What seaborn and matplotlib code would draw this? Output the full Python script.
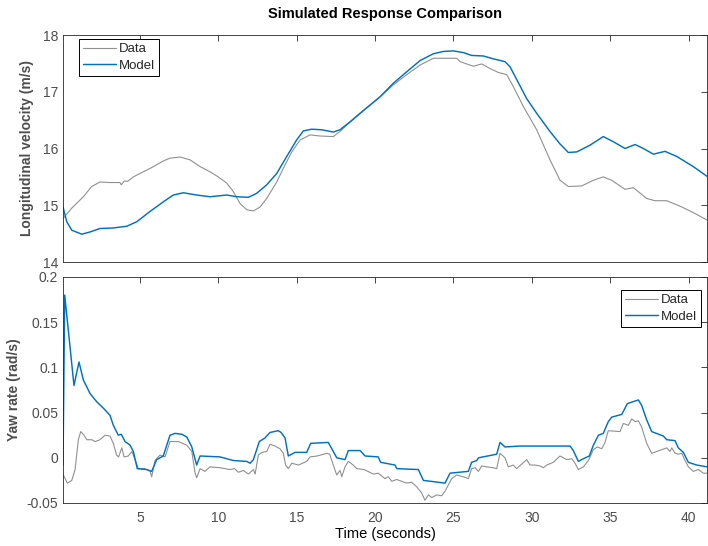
import numpy as np
import pandas as pd
import matplotlib
matplotlib.use("Agg")
import matplotlib.pyplot as plt
from matplotlib.ticker import FuncFormatter
import seaborn as sns

# ---- Longitudinal velocity (m/s) ----
t_vel_data = [0.10, 0.64, 1.38, 1.91, 2.44, 3.08, 3.72, 3.80, 4.00, 4.20, 4.57, 5.21, 5.85,
              6.48, 6.91, 7.55, 8.19, 8.83, 9.46, 9.99, 10.53, 10.95, 11.38, 11.81, 12.23,
              12.66, 13.08, 13.72, 14.14, 14.68, 15.21, 15.85, 16.48, 17.33, 17.76, 18.18,
              19.04, 20.31, 21.16, 22.01, 22.87, 23.72, 24.57, 25.21, 25.42, 26.27, 26.80,
              27.33, 27.86, 28.40, 28.82, 29.46, 30.31, 31.16, 31.80, 32.33, 33.18, 33.93,
              34.56, 35.10, 35.95, 36.48, 37.33, 37.86, 38.61, 39.57, 40.31, 41.18]
vel_data = [14.77, 14.95, 15.15, 15.33, 15.41, 15.40, 15.40, 15.36, 15.43, 15.42, 15.50,
            15.59, 15.68, 15.78, 15.83, 15.85, 15.80, 15.68, 15.59, 15.50, 15.39, 15.24,
            15.03, 14.92, 14.90, 14.97, 15.12, 15.41, 15.65, 15.94, 16.15, 16.24, 16.22,
            16.21, 16.30, 16.41, 16.62, 16.91, 17.12, 17.30, 17.47, 17.59, 17.59, 17.59,
            17.53, 17.45, 17.49, 17.41, 17.34, 17.30, 17.09, 16.74, 16.33, 15.80, 15.44,
            15.33, 15.34, 15.44, 15.50, 15.44, 15.28, 15.31, 15.12, 15.08, 15.08, 14.97,
            14.87, 14.74]

t_vel_model = [0.08, 0.32, 0.64, 1.28, 1.81, 2.44, 3.29, 4.15, 4.79, 5.63, 6.48, 7.12,
               7.76, 8.61, 9.46, 10.53, 11.17, 11.91, 12.44, 13.08, 13.72, 14.36, 14.99,
               15.42, 15.95, 16.59, 17.33, 17.76, 18.40, 19.04, 20.31, 21.16, 22.01, 22.87,
               23.72, 24.35, 24.99, 25.63, 26.16, 26.91, 27.54, 28.29, 28.61, 29.67, 30.31,
               31.16, 31.80, 32.33, 32.87, 33.72, 34.56, 35.20, 35.95, 36.59, 37.12, 37.76,
               38.50, 39.25, 40.31, 41.18]
vel_model = [14.97, 14.71, 14.56, 14.49, 14.53, 14.59, 14.60, 14.63, 14.71, 14.89, 15.06,
             15.18, 15.22, 15.18, 15.15, 15.18, 15.15, 15.14, 15.21, 15.36, 15.56, 15.86,
             16.15, 16.31, 16.34, 16.33, 16.29, 16.33, 16.47, 16.62, 16.91, 17.15, 17.35,
             17.55, 17.67, 17.71, 17.72, 17.69, 17.64, 17.63, 17.58, 17.53, 17.44, 16.88,
             16.62, 16.30, 16.08, 15.93, 15.94, 16.06, 16.21, 16.12, 16.00, 16.07, 16.00,
             15.90, 15.95, 15.86, 15.68, 15.51]

# ---- Yaw rate (rad/s) ----
t_yaw_data = [
    0.10, 0.36, 0.64, 0.85, 1.06, 1.21, 1.42, 1.60, 1.91, 2.13,
    2.44, 2.76, 3.08, 3.29, 3.50, 3.63, 3.83, 3.98, 4.25, 4.47,
    4.68, 4.89, 5.30, 5.64, 5.74, 5.95, 6.27, 6.59, 6.91, 7.44,
    7.98, 8.30, 8.51, 8.61, 8.83, 9.14, 9.46, 10.10, 10.74, 11.03,
    11.27, 11.59, 11.91, 12.23, 12.34, 12.55, 12.76, 13.08, 13.29, 13.61,
    13.93, 14.14, 14.29, 14.46, 14.68, 15.10, 15.63, 15.85, 16.30, 16.50,
    16.91, 17.10, 17.33, 17.55, 17.76, 17.87, 18.08, 18.29, 18.60, 18.83,
    19.30, 19.89, 20.20, 20.63, 20.84, 21.06, 21.38, 21.70, 22.01, 22.33,
    22.65, 22.97, 23.18, 23.40, 23.61, 23.93, 24.25, 24.46, 24.67, 24.89,
    25.21, 25.63, 25.95, 26.16, 26.38, 26.59, 26.80, 27.12, 27.54, 27.76,
    27.97, 28.29, 28.50, 28.82, 29.03, 29.35, 29.67, 29.88, 30.20, 30.52,
    30.74, 30.95, 31.37, 31.80, 32.23, 32.55, 32.76, 32.97, 33.29, 33.61,
    33.93, 34.18, 34.46, 34.67, 34.88, 35.63, 35.84, 36.16, 36.38, 36.59,
    36.80, 37.01, 37.33, 37.65, 37.97, 38.29, 38.61, 38.82, 38.93, 39.14,
    39.35, 39.57, 39.78, 39.99, 40.31, 40.63, 40.95, 41.18]
yaw_data = [
    -0.019, -0.028, -0.025, -0.013, 0.020, 0.029, 0.025, 0.020, 0.020, 0.018,
    0.020, 0.025, 0.024, 0.016, 0.003, 0.001, 0.011, 0.001, 0.002, 0.007,
    -0.002, -0.012, -0.012, -0.015, -0.021, -0.003, 0.003, 0.001, 0.018, 0.018,
    0.014, 0.007, -0.017, -0.022, -0.012, -0.015, -0.010, -0.011, -0.013, -0.012,
    -0.016, -0.014, -0.018, -0.013, -0.018, 0.003, 0.006, 0.007, 0.015, 0.013,
    0.010, 0.005, -0.008, -0.012, -0.006, -0.008, -0.004, 0.001, 0.002, 0.003,
    0.005, 0.004, -0.008, -0.019, -0.014, -0.021, -0.010, -0.004, -0.008, -0.012,
    -0.013, -0.018, -0.017, -0.023, -0.021, -0.026, -0.024, -0.026, -0.028, -0.027,
    -0.032, -0.039, -0.047, -0.041, -0.044, -0.041, -0.042, -0.037, -0.030, -0.023,
    -0.019, -0.021, -0.023, -0.012, -0.011, -0.015, -0.009, -0.010, -0.011, -0.012,
    0.005, 0.000, -0.010, -0.008, -0.012, -0.007, -0.002, -0.008, -0.008, -0.009,
    -0.011, -0.008, -0.005, 0.002, -0.002, -0.001, -0.006, -0.013, -0.010, -0.003,
    0.009, 0.012, 0.010, 0.017, 0.030, 0.029, 0.038, 0.036, 0.043, 0.040,
    0.041, 0.034, 0.016, 0.005, 0.007, 0.009, 0.011, 0.007, 0.011, 0.005,
    0.004, 0.005, -0.003, -0.010, -0.015, -0.013, -0.017, -0.017]

t_yaw_model = [
    0.08, 0.19, 0.78, 1.10, 1.38, 1.81, 2.23, 2.65, 3.08, 3.29,
    3.61, 3.80, 4.04, 4.36, 4.57, 4.82, 5.42, 5.74, 6.06, 6.48,
    6.91, 7.23, 7.67, 7.98, 8.30, 8.61, 8.83, 10.10, 10.95, 11.81,
    12.02, 12.23, 12.61, 12.97, 13.29, 13.82, 14.00, 14.25, 14.46, 14.89,
    15.63, 15.89, 17.01, 17.33, 17.55, 18.08, 18.29, 19.04, 19.36, 20.20,
    20.35, 21.27, 21.38, 22.76, 23.08, 24.46, 24.78, 25.95, 26.16, 26.48,
    26.60, 27.76, 27.97, 28.29, 29.25, 31.16, 32.44, 32.65, 32.97, 33.29,
    33.67, 33.93, 34.25, 34.56, 34.88, 35.10, 35.74, 36.10, 36.80, 37.01,
    37.33, 37.65, 38.40, 38.61, 39.14, 39.35, 39.67, 39.99, 40.52, 41.18]
yaw_model = [
    -0.008, 0.180, 0.080, 0.106, 0.086, 0.071, 0.062, 0.055, 0.047, 0.036,
    0.025, 0.026, 0.018, 0.014, 0.007, -0.012, -0.013, -0.015, -0.002, 0.002,
    0.025, 0.027, 0.026, 0.023, 0.012, -0.008, 0.002, 0.001, -0.003, -0.004,
    -0.006, -0.002, 0.018, 0.022, 0.028, 0.030, 0.028, 0.022, 0.002, 0.006,
    0.006, 0.016, 0.017, 0.007, 0.000, -0.002, 0.008, 0.008, 0.002, 0.001,
    -0.005, -0.008, -0.012, -0.013, -0.025, -0.028, -0.017, -0.015, -0.005, -0.003,
    0.000, 0.004, 0.017, 0.012, 0.013, 0.013, 0.013, 0.008, -0.004, -0.001,
    0.002, 0.014, 0.025, 0.027, 0.040, 0.045, 0.048, 0.060, 0.064, 0.058,
    0.042, 0.029, 0.024, 0.020, 0.019, 0.011, 0.006, -0.005, -0.008, -0.010]

x_ticks = [5, 10, 15, 20, 25, 30, 35, 40]
vel_ticks = [14, 15, 16, 17, 18]
yaw_ticks = [-0.05, 0, 0.05, 0.1, 0.15, 0.2]

DATA_COLOR = "#909090"
MODEL_COLOR = "#0072BD"
AX_COLOR = "#262626"
TICK_COLOR = "#4d4d4d"

sns.set_theme(style="white")
plt.rcParams["font.family"] = ["Liberation Sans", "DejaVu Sans"]
plt.rcParams["axes.linewidth"] = 0.6

fig = plt.figure(figsize=(7.08, 5.46), dpi=100)
W, H = 708, 546
left, right = 63, 707
ax1 = fig.add_axes([left / W, 1 - 262 / H, (right - left) / W, (262 - 35) / H])
ax2 = fig.add_axes([left / W, 1 - 503 / H, (right - left) / W, (503 - 277) / H])

vel_d = pd.DataFrame({"t": t_vel_data, "v": vel_data})
vel_m = pd.DataFrame({"t": t_vel_model, "v": vel_model})
yaw_d = pd.DataFrame({"t": t_yaw_data, "r": yaw_data})
yaw_m = pd.DataFrame({"t": t_yaw_model, "r": yaw_model})

sns.lineplot(data=vel_d, x="t", y="v", ax=ax1, color=DATA_COLOR, linewidth=0.8,
             label="Data", estimator=None, sort=False)
sns.lineplot(data=vel_m, x="t", y="v", ax=ax1, color=MODEL_COLOR, linewidth=1.05,
             label="Model", estimator=None, sort=False)
sns.lineplot(data=yaw_d, x="t", y="r", ax=ax2, color=DATA_COLOR, linewidth=0.8,
             label="Data", estimator=None, sort=False)
sns.lineplot(data=yaw_m, x="t", y="r", ax=ax2, color=MODEL_COLOR, linewidth=1.05,
             label="Model", estimator=None, sort=False)

for ax in (ax1, ax2):
    ax.set_xlim(0.08, 41.18)
    ax.set_xticks(x_ticks)
    ax.tick_params(axis="both", direction="in", length=4, width=0.6, colors=AX_COLOR,
                   labelcolor=TICK_COLOR, labelsize=10, top=True, right=True)
    ax.tick_params(axis="x", pad=6)
    for s in ax.spines.values():
        s.set_color(AX_COLOR)
        s.set_linewidth(0.6)
    ax.grid(False)

ax1.set_ylim(14, 18)
ax1.set_yticks(vel_ticks)
ax1.set_xticklabels([])
ax1.set_xlabel("")
ax1.set_ylabel("Longitudinal velocity (m/s)", fontsize=10, fontweight="bold",
               color=TICK_COLOR, labelpad=6)
ax1.set_title("Simulated Response Comparison", fontsize=10.5, fontweight="bold",
              color="black", pad=12)

ax2.set_ylim(-0.05, 0.2)
ax2.set_yticks(yaw_ticks)
ax2.yaxis.set_major_formatter(FuncFormatter(lambda v, p: f"{v:g}"))
ax2.set_xlabel("Time (seconds)", fontsize=10.5, color="black", labelpad=1)
ax2.set_ylabel("Yaw rate (rad/s)", fontsize=10, fontweight="bold", color=TICK_COLOR)

leg_kw = dict(fontsize=9.5, frameon=True, fancybox=False, edgecolor="black",
              framealpha=1, borderpad=0.3, labelspacing=0.33, handlelength=2.5,
              handletextpad=0.25, borderaxespad=0)
l1 = ax1.legend(loc="upper left", bbox_to_anchor=(16 / 644, 1 - 4 / 227), **leg_kw)
l2 = ax2.legend(loc="upper right", bbox_to_anchor=(1 - 6 / 644, 1 - 13 / 226), **leg_kw)
for lg in (l1, l2):
    lg.get_frame().set_linewidth(0.7)

fig.savefig("out.png", dpi=100)
